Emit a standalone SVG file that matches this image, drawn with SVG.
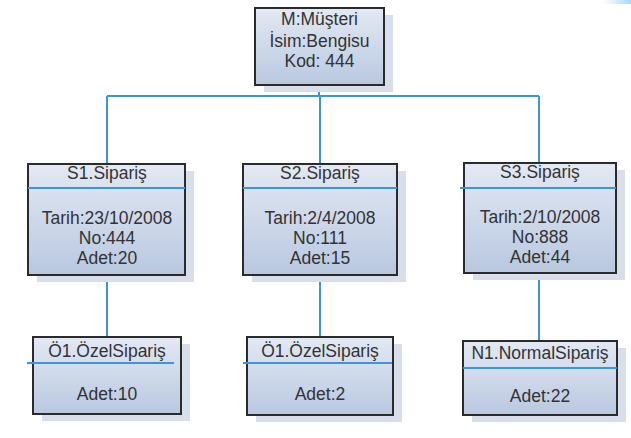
<svg xmlns="http://www.w3.org/2000/svg" width="631" height="438" viewBox="0 0 631 438">
<defs>
<linearGradient id="g" x1="0" y1="0" x2="0" y2="1">
<stop offset="0" stop-color="#e3e9f4"/>
<stop offset="1" stop-color="#b9c8e0"/>
</linearGradient>
<linearGradient id="corner" x1="0" y1="0" x2="1" y2="0">
<stop offset="0" stop-color="#ffffff"/>
<stop offset="1" stop-color="#a9d8fb"/>
</linearGradient>
</defs>
<style>
.shadow{fill:#d8dfeb}
.box{fill:url(#g);stroke:#2b2b2b;stroke-width:2}
.div{stroke:#3a94e0;stroke-width:2}
.conn{stroke:#3a94e0;stroke-width:2;fill:none}
text{font-family:"Liberation Sans",Arial,sans-serif;font-size:17.5px;fill:#333;text-anchor:middle}
</style>
<rect x="603" y="0" width="28" height="4" fill="url(#corner)"/>
<g id="connectors">
<path class="conn" d="M319 85 V96 M107 96 H539 M107 96 V164 M320 96 V164 M539 96 V163 M107 275 V337 M320 275 V337 M539 273 V341"/>
</g>
<g id="musteri">
<rect class="shadow" x="264" y="15" width="129" height="77"/>
<rect class="box" x="255" y="8" width="129" height="77"/>
<text x="319.5" y="25">M:Müşteri</text>
<text x="319.5" y="47">İsim:Bengisu</text>
<text x="319.5" y="67">Kod: 444</text>
</g>
<g id="s1">
<rect class="shadow" x="37" y="171" width="157" height="111"/>
<rect class="box" x="28" y="164" width="157" height="111"/>
<line class="div" x1="28" y1="188" x2="185" y2="188"/>
<text x="107" y="179">S1.Sipariş</text>
<text x="107" y="224">Tarih:23/10/2008</text>
<text x="107" y="244">No:444</text>
<text x="107" y="264">Adet:20</text>
</g>
<g id="s2">
<rect class="shadow" x="252" y="171" width="154" height="111"/>
<rect class="box" x="243" y="164" width="154" height="111"/>
<line class="div" x1="243" y1="188" x2="397" y2="188"/>
<text x="320" y="179">S2.Sipariş</text>
<text x="320" y="224">Tarih:2/4/2008</text>
<text x="320" y="244">No:111</text>
<text x="320" y="264">Adet:15</text>
</g>
<g id="s3">
<rect class="shadow" x="473" y="170" width="152" height="110"/>
<rect class="box" x="464" y="163" width="152" height="110"/>
<line class="div" x1="460" y1="188" x2="616" y2="188"/>
<text x="540" y="178">S3.Sipariş</text>
<text x="540" y="223">Tarih:2/10/2008</text>
<text x="540" y="243">No:888</text>
<text x="540" y="263">Adet:44</text>
</g>
<g id="o1a">
<rect class="shadow" x="42" y="344" width="148" height="77"/>
<rect class="box" x="33" y="337" width="148" height="77"/>
<line class="div" x1="27" y1="363" x2="174" y2="363"/>
<text x="107" y="357">Ö1.ÖzelSipariş</text>
<text x="107" y="400">Adet:10</text>
</g>
<g id="o1b">
<rect class="shadow" x="256" y="344" width="146" height="78"/>
<rect class="box" x="247" y="337" width="146" height="78"/>
<line class="div" x1="243" y1="363" x2="392" y2="363"/>
<text x="320" y="357">Ö1.ÖzelSipariş</text>
<text x="320" y="400">Adet:2</text>
</g>
<g id="n1">
<rect class="shadow" x="472" y="348" width="154" height="74"/>
<rect class="box" x="463" y="341" width="154" height="74"/>
<line class="div" x1="463" y1="368" x2="617" y2="368"/>
<text x="540" y="359">N1.NormalSipariş</text>
<text x="540" y="402">Adet:22</text>
</g>
</svg>
